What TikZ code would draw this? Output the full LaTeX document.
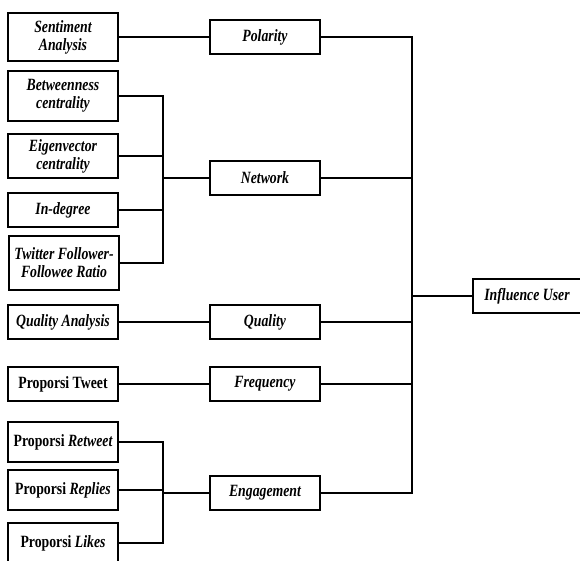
\documentclass[tikz,border=0pt]{standalone}
\usepackage{fontspec}
\setmainfont{Liberation Serif}[FakeStretch=0.8]
\begin{document}
\begin{tikzpicture}[x=1pt,y=-1pt,
  box/.style={draw, line width=2pt, minimum width=110pt, inner sep=1pt, align=center,
    font=\fontsize{17.2}{18}\selectfont\bfseries\itshape},
  conn/.style={line width=2pt}]
\useasboundingbox (0,0) rectangle (580,560);
\clip (0,0) rectangle (580,560);
% left column
\node[box, minimum height=48pt] (sa) at (63,37) {Sentiment\\Analysis};
\node[box, minimum height=50pt] (bc) at (63,96) {Betweenness\\centrality};
\node[box, minimum height=44pt] (ec) at (63,156) {Eigenvector\\centrality};
\node[box, minimum height=34pt] (id) at (63,210) {In-degree};
\node[box, minimum height=54pt] (tf) at (64,263) {Twitter Follower-\\Followee Ratio};
\node[box, minimum height=34pt] (qa) at (63,322) {Quality Analysis};
\node[box, minimum height=34pt] (pt) at (63,384) {\upshape Proporsi Tweet};
\node[box, minimum height=40pt] (pr) at (63,442) {{\upshape Proporsi} Retweet};
\node[box, minimum height=40pt] (prp) at (63,490) {{\upshape Proporsi} Replies};
\node[box, minimum height=40pt] (pl) at (63,543) {{\upshape Proporsi} Likes};
% middle column
\node[box, minimum height=34pt] (pol) at (265,37) {Polarity};
\node[box, minimum height=34pt] (net) at (265,178) {Network};
\node[box, minimum height=34pt] (qua) at (265,322) {Quality};
\node[box, minimum height=34pt] (fre) at (265,384) {Frequency};
\node[box, minimum height=34pt] (eng) at (265,493) {Engagement};
% right
\node[box, minimum height=34pt, minimum width=108pt] (iu) at (527,296) {Influence User};
% junctions
\coordinate (nb) at (163,178);
\coordinate (eb) at (163,493);
\coordinate (bus) at (412,296);
% connectors
\draw[conn] (sa.east) -- (pol.west);
\draw[conn] (bc.east) -- (bc.east -| nb) -- (tf.east -| nb) -- (tf.east);
\draw[conn] (ec.east) -- (ec.east -| nb);
\draw[conn] (id.east) -- (id.east -| nb);
\draw[conn] (nb) -- (net.west);
\draw[conn] (qa.east) -- (qua.west);
\draw[conn] (pt.east) -- (fre.west);
\draw[conn] (pr.east) -- (pr.east -| eb) -- (pl.east -| eb) -- (pl.east);
\draw[conn] (prp.east) -- (prp.east -| eb);
\draw[conn] (eb) -- (eng.west);
\draw[conn] (pol.east) -- (pol.east -| bus) -- (eng.east -| bus) -- (eng.east);
\draw[conn] (net.east) -- (net.east -| bus);
\draw[conn] (qua.east) -- (qua.east -| bus);
\draw[conn] (fre.east) -- (fre.east -| bus);
\draw[conn] (bus) -- (iu.west);
\end{tikzpicture}
\end{document}
